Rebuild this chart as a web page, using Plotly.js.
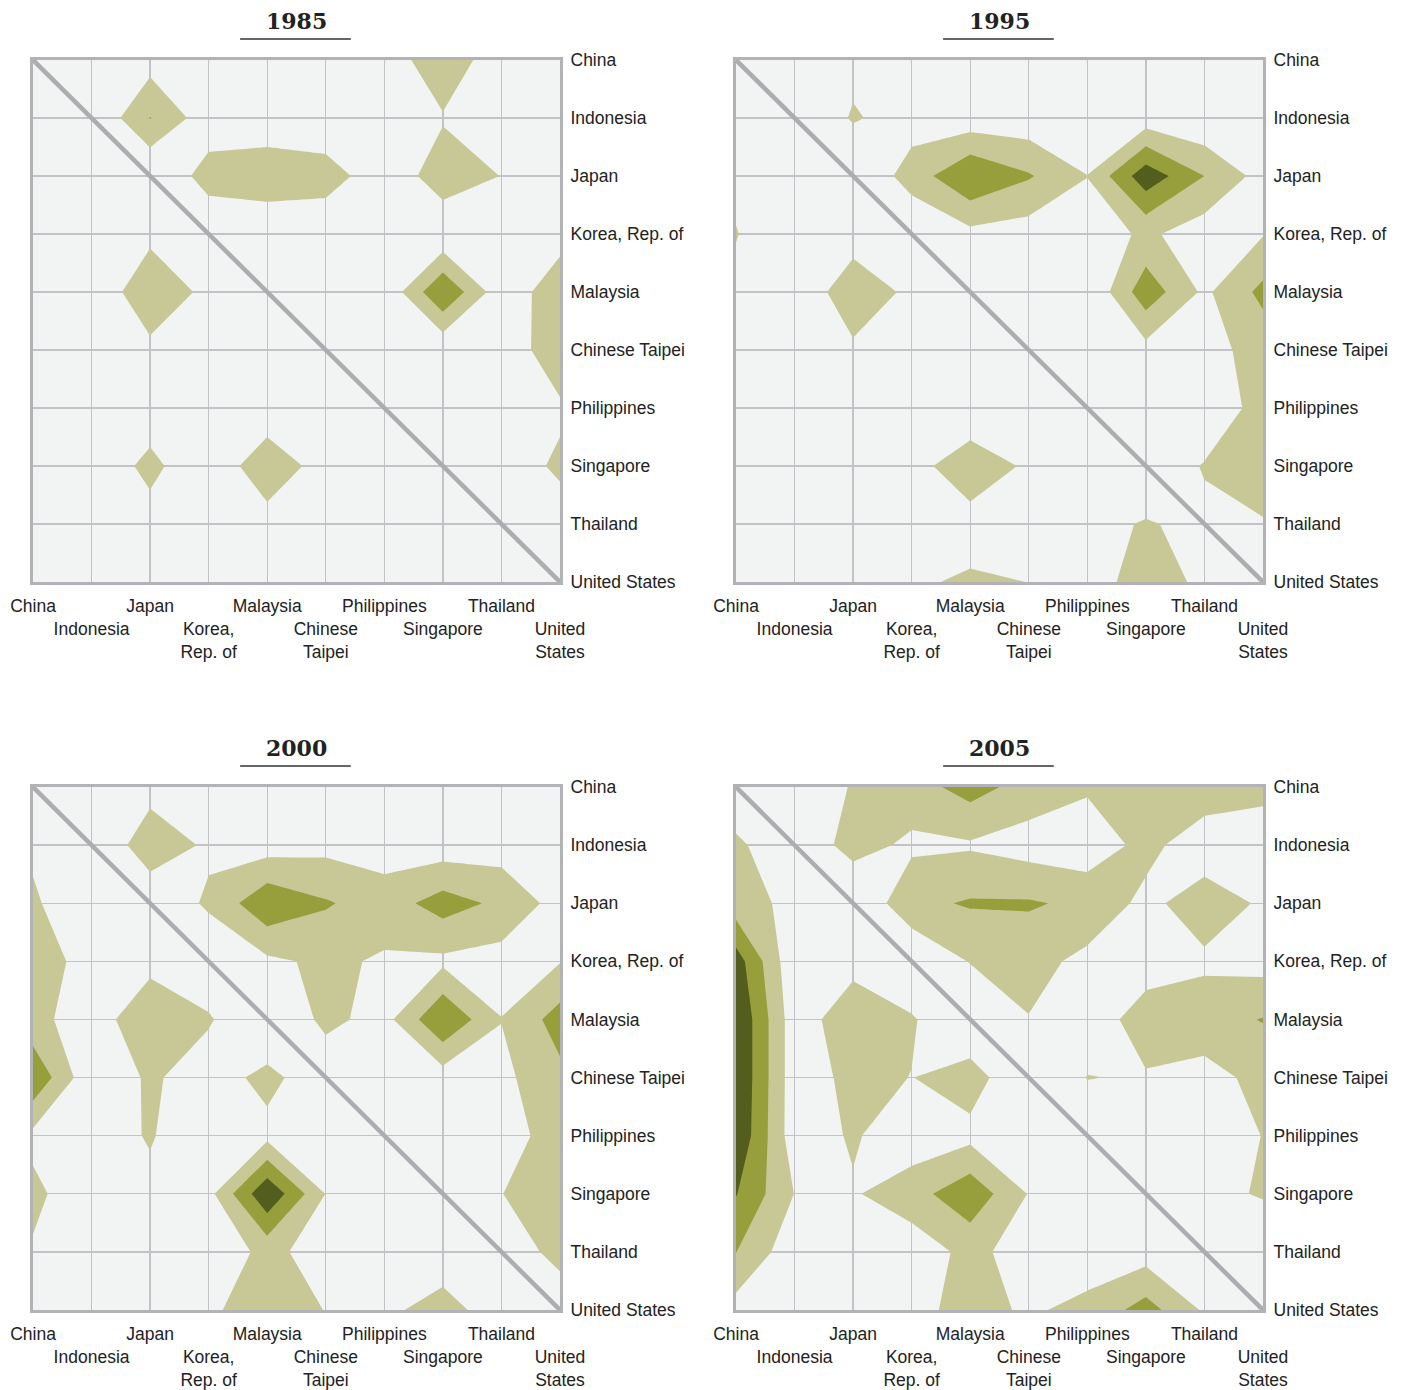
<!DOCTYPE html>
<html><head><meta charset="utf-8">
<script src="https://cdn.plot.ly/plotly-3.0.1.min.js"></script>
<style>html,body{margin:0;padding:0;background:#fff;} #chart{width:1405px;height:1390px;}</style>
</head><body><div id="chart"></div>
<script>
// ---------- data ----------
const countries = ["China","Indonesia","Japan","Korea, Rep. of","Malaysia","Chinese Taipei","Philippines","Singapore","Thailand","United States"];
const xTickLabels = ["China","<br>Indonesia","Japan","<br>Korea,<br>Rep. of","Malaysia","<br>Chinese<br>Taipei","Philippines","<br>Singapore","Thailand","<br>United<br>States"];
const yTickLabels = ["China","Indonesia","Japan","Korea, Rep. of","Malaysia","Chinese Taipei","Philippines","Singapore","Thailand","United States"];
const years = ["1985","1995","2000","2005"];
const levels = [1, 2, 3];
const bandColors = ["rgba(242,244,243,0)", "#c7c895", "#979e3c", "#535d1d"];

// rows: reporter (China .. United States, top to bottom); columns: partner (left to right)
const z1985 = [
  [0, 0, 0.57, 0, 0, 0, 0.3, 1.82, 0.24, 0],
  [0, 0, 2.03, 0.4, 0.2, 0, 0, 0.9, 0, 0],
  [0, 0, 0, 1.43, 1.8, 1.61, 0.19, 1.61, 0.98, 0],
  [0, 0, 0.7, 0.17, 0, 0, 0, 0.14, 0, 0.62],
  [0, 0.02, 1.9, 0.68, 0, 0, 0.16, 2.95, 0.35, 1.6],
  [0, 0, 0.7, 0, 0, 0, 0, 0.16, 0.38, 1.6],
  [0, 0, 0.39, 0, 0.2, 0, 0, 0, 0, 0.86],
  [0, 0.19, 1.3, 0.1, 1.8, 0.47, 0, 0, 0.56, 1.14],
  [0, 0, 0.57, 0, 0.51, 0, 0, 0, 0, 0.62],
  [0, 0, 0, 0, 0, 0, 0, 0, 0, 0]
];
const z1995 = [
  [0, 0, 0.72, 0, 0, 0, 0, 0, 0, 0],
  [0, 0, 1.1, 0.56, 0.38, 0.35, 0, 0.44, 0.11, 0],
  [0.72, 0, 0.02, 1.44, 2.95, 2.1, 1.02, 3.64, 2.0, 0.61],
  [1.05, 0, 0.42, 0.11, 0.71, 0.51, 0.4, 1.19, 0.46, 0.94],
  [0.72, 0, 1.8, 0.73, 0, 0, 0, 2.62, 0.8, 2.27],
  [0, 0, 0.79, 0, 0, 0, 0, 0.66, 0.66, 1.37],
  [0, 0, 0, 0, 0, 0, 0, 0, 0.44, 1.3],
  [0, 0, 0, 0.53, 1.8, 0.8, 0, 0.5, 1.05, 1.5],
  [0, 0, 0, 0, 0.5, 0.3, 0.8, 1.05, 0.84, 0.93],
  [0, 0, 0, 0.85, 1.15, 0.99, 0.5, 1.5, 0.79, 0]
];
const z2000 = [
  [0, 0, 0.65, 0, 0, 0, 0, 0, 0, 0],
  [0.82, 0.06, 1.6, 0.85, 0.53, 0.7, 0.5, 0.44, 0.52, 0],
  [1.15, 0.15, 0.3, 1.14, 2.79, 2.1, 1.5, 2.44, 1.78, 0.6],
  [1.6, 0.55, 0.71, 0.3, 0.8, 1.2, 0.88, 0.78, 0.6, 0.95],
  [1.28, 0.5, 1.7, 1.1, 0, 1.25, 0.64, 2.95, 1.02, 2.43],
  [2.85, 0.21, 1.15, 0.5, 1.3, 0.3, 0, 0.51, 0.75, 1.75],
  [0.73, 0.7, 1.05, 0.55, 0.7, 0, 0, 0, 0.4, 1.6],
  [1.25, 0.25, 0.85, 0.68, 3.85, 0.98, 0, 0, 0.98, 1.6],
  [0.89, 0, 0, 0.23, 1.3, 0.51, 0, 0.55, 0.61, 1.2],
  [0, 0, 0, 0.81, 1.6, 0.97, 0.84, 1.3, 0.59, 0.6]
];
const z2005 = [
  [0.2, 0, 1.1, 1.57, 2.4, 1.6, 1.15, 1.5, 1.7, 1.3],
  [1.2, 0.2, 1.4, 0.8, 0.88, 0.55, 0.3, 1.35, 0.3, 0.4],
  [1.4, 0.75, 0, 1.75, 2.1, 2.1, 1.8, 0.7, 1.6, 0.85],
  [3.5, 0.2, 0.64, 0, 1.05, 1.4, 0.7, 0.5, 0.8, 0.61],
  [4.0, 0.4, 1.7, 1.11, 0, 0.96, 0.39, 1.5, 1.6, 2.05],
  [4.0, 0.4, 1.3, 0.98, 1.5, 0, 1.03, 0.91, 0.64, 1.3],
  [3.9, 0.4, 1.12, 0.35, 0.7, 0, 0.3, 0.3, 0.5, 1.02],
  [3.05, 0.98, 0.9, 1.6, 2.7, 0.95, 0.3, 0.3, 0.84, 1.05],
  [2.02, 0.33, 0.8, 0.4, 1.3, 0.51, 0.5, 0.53, 0.86, 0.55],
  [0.57, 0, 0, 0.74, 1.3, 0.88, 1.25, 2.42, 0.86, 0]
];
const matrices = [z1985, z1995, z2000, z2005];

// ---------- layout helpers ----------
const W = 1405, H = 1390;
const px = (a, b) => [a / W, b / W];
const py = (top, bottom) => [1 - bottom / H, 1 - top / H];
const domains = [
  {x: px(33, 560), y: py(60, 582)},
  {x: px(736, 1263), y: py(60, 582)},
  {x: px(33, 560), y: py(787, 1310)},
  {x: px(736, 1263), y: py(787, 1310)}
];
const idx = countries.map((_, i) => i);
const nMax = countries.length - 1;

const colorscale = [
  [0, bandColors[0]], [1/6, bandColors[0]],
  [1/6, bandColors[1]], [0.5, bandColors[1]],
  [0.5, bandColors[2]], [5/6, bandColors[2]],
  [5/6, bandColors[3]], [1, bandColors[3]]
];

const traces = [];
const layout = {
  width: W, height: H,
  margin: {l: 0, r: 0, t: 0, b: 0},
  paper_bgcolor: "#ffffff",
  plot_bgcolor: "#f2f4f3",
  showlegend: false,
  font: {family: "Liberation Sans, Arial, sans-serif", size: 17.5, color: "#222222"},
  shapes: [],
  annotations: []
};

matrices.forEach((z, k) => {
  const sfx = k === 0 ? "" : String(k + 1);
  const xa = "x" + sfx, ya = "y" + sfx;
  traces.push({
    type: "contour",
    x: idx, y: idx, z: z,
    xaxis: xa, yaxis: ya,
    autocontour: false,
    contours: {start: levels[0], end: levels[levels.length - 1], size: levels[1] - levels[0], coloring: "fill", showlines: false},
    line: {width: 0, smoothing: 0},
    colorscale: colorscale,
    showscale: false,
    hoverinfo: "skip"
  });
  const common = {
    showgrid: true, gridcolor: "#c3c3c7", gridwidth: 1.3,
    zeroline: false, showline: true, mirror: true,
    linecolor: "#b3b3b7", linewidth: 3,
    ticks: "outside", tickcolor: "rgba(0,0,0,0)",
    tickvals: idx, fixedrange: true,
    tickfont: {family: "Liberation Sans, Arial, sans-serif", size: 17.5, color: "#222222"}
  };
  layout["xaxis" + sfx] = Object.assign({}, common, {
    domain: domains[k].x, anchor: ya, range: [0, nMax],
    ticktext: xTickLabels, ticklen: 6, side: "bottom", tickangle: 0
  });
  layout["yaxis" + sfx] = Object.assign({}, common, {
    domain: domains[k].y, anchor: xa, range: [nMax, 0],
    ticktext: yTickLabels, ticklen: 4, side: "right"
  });
  // diagonal
  layout.shapes.push({
    type: "line", xref: xa, yref: ya, x0: 0, y0: 0, x1: nMax, y1: nMax,
    line: {color: "#adadb1", width: 4.5}, layer: "above"
  });
  // title underline
  layout.shapes.push({
    type: "line", xref: xa + " domain", yref: ya + " domain",
    x0: 0.393, x1: 0.603, y0: 1.0402, y1: 1.0402,
    line: {color: "#333333", width: 1.5}
  });
  layout.annotations.push({
    text: "<b>" + years[k] + "</b>", xref: xa + " domain", yref: ya + " domain",
    x: 0.5, y: 1.075, xanchor: "center", yanchor: "middle", showarrow: false,
    font: {family: "DejaVu Serif, serif", size: 22, color: "#222222"}
  });
});

Plotly.newPlot("chart", traces, layout, {staticPlot: true, displayModeBar: false});
</script>
</body></html>
